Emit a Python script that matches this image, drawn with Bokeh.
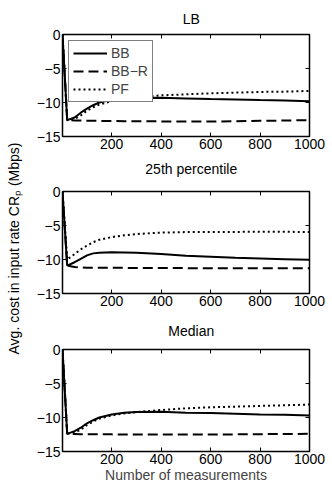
import math
from bokeh.plotting import figure
from bokeh.layouts import row, column
from bokeh.models import (Range1d, FixedTicker, LinearAxis, Legend, LegendItem, Label)
from bokeh.embed import file_html
from bokeh.resources import INLINE

# ---- data ----
x_meas = [1, 20, 50, 75, 100, 125, 150, 200, 250, 300, 400, 500, 600, 700, 800, 900, 1000]

bb_lb = [0, -12.6, -12.2, -11.5, -10.9, -10.4, -10.0, -9.6, -9.45, -9.35, -9.3, -9.4, -9.5, -9.55, -9.65, -9.7, -9.8]
bbr_lb = [0, -12.6, -12.65, -12.65, -12.7, -12.7, -12.7, -12.72, -12.75, -12.75, -12.78, -12.8, -12.8, -12.75, -12.7, -12.65, -12.6]
pf_lb = [0, -12.6, -12.4, -11.9, -11.2, -10.7, -10.3, -9.8, -9.45, -9.2, -8.95, -8.8, -8.65, -8.55, -8.45, -8.4, -8.3]

bb_p25 = [0, -10.9, -10.4, -9.9, -9.4, -9.1, -9.0, -8.95, -8.97, -9.0, -9.2, -9.45, -9.6, -9.75, -9.85, -9.95, -10.05]
bbr_p25 = [0, -10.9, -11.1, -11.15, -11.2, -11.2, -11.2, -11.22, -11.23, -11.25, -11.25, -11.27, -11.28, -11.3, -11.3, -11.3, -11.3]
pf_p25 = [0, -10.0, -9.2, -8.5, -7.95, -7.45, -7.1, -6.7, -6.45, -6.25, -6.05, -5.97, -5.95, -5.94, -5.93, -5.93, -5.95]

bb_med = [0, -12.4, -12.0, -11.5, -10.85, -10.4, -10.0, -9.55, -9.3, -9.2, -9.15, -9.3, -9.35, -9.45, -9.55, -9.6, -9.7]
bbr_med = [0, -12.4, -12.42, -12.45, -12.45, -12.47, -12.47, -12.48, -12.5, -12.5, -12.5, -12.5, -12.5, -12.48, -12.45, -12.42, -12.4]
pf_med = [0, -12.4, -12.2, -11.8, -11.1, -10.6, -10.15, -9.7, -9.4, -9.2, -8.9, -8.65, -8.5, -8.4, -8.3, -8.2, -8.1]

x_ticks = [200, 400, 600, 800, 1000]
y_ticks = [0, -5, -10, -15]
y_tick_labels = {0: "0", -5: "\u22125", -10: "\u221210", -15: "\u221215"}

titles = ["LB", "25th percentile", "Median"]
series_names = ["BB", "BB\u2212R", "PF"]
panels = [(bb_lb, bbr_lb, pf_lb), (bb_p25, bbr_p25, pf_p25), (bb_med, bbr_med, pf_med)]

FONT = "Liberation Sans"
FS = "14px"
dashes = ["solid", "10 5", "2 3"]

# layout geometry (pixels)
title_h = [26, 25, 25]           # height of each title strip
title_center = [18, 10, 14]      # title text centre, from top of strip
tops = [8, 8, 8]
bottoms = [22, 23, 39]
FRAME_H = 102
FRAME_W = 247
LEFT_B = 36
RIGHT_B = 23
LABEL_W = 26
FIG_W = LEFT_B + FRAME_W + RIGHT_B

items = []
for i, (title, data) in enumerate(zip(titles, panels)):
    # title strip
    th = title_h[i]
    t = figure(width=FIG_W, height=th, output_backend="svg", toolbar_location=None,
               x_range=Range1d(0, FIG_W), y_range=Range1d(0, th), min_border=0,
               x_axis_location=None, y_axis_location=None)
    t.grid.visible = False
    t.outline_line_color = None
    t.add_layout(Label(x=LEFT_B + FRAME_W / 2, y=th - title_center[i], text=title,
                       text_align="center", text_baseline="middle",
                       text_font=FONT, text_font_size=FS, text_color="black"))
    items.append(t)

    h = tops[i] + FRAME_H + bottoms[i]
    p = figure(width=FIG_W, height=h, output_backend="svg",
               toolbar_location=None, x_range=Range1d(1, 1000), y_range=Range1d(-15, 0),
               min_border_left=LEFT_B, min_border_right=RIGHT_B,
               min_border_top=tops[i], min_border_bottom=bottoms[i])
    p.grid.visible = False
    p.outline_line_color = "black"
    p.outline_line_width = 1.5
    p.background_fill_color = "white"
    p.border_fill_color = "white"

    xax = p.below[0]
    yax = p.left[0]
    xax.ticker = FixedTicker(ticks=x_ticks)
    yax.ticker = FixedTicker(ticks=y_ticks)
    yax.major_label_overrides = y_tick_labels
    for ax in (xax, yax):
        ax.axis_line_color = None
        ax.major_tick_in = 4
        ax.major_tick_out = 0
        ax.minor_tick_line_color = None
        ax.major_tick_line_color = "black"
        ax.major_tick_line_width = 1
        ax.major_label_text_font = FONT
        ax.major_label_text_font_size = FS
        ax.major_label_text_color = "black"
        ax.major_label_standoff = 2

    # mirrored ticks top/right (no labels drawn)
    top_ax = LinearAxis(ticker=FixedTicker(ticks=x_ticks), major_label_text_font_size="1px",
                        major_label_text_color=None,
                        major_label_standoff=0, major_tick_in=4, major_tick_out=0,
                        minor_tick_line_color=None, axis_line_color=None)
    right_ax = LinearAxis(ticker=FixedTicker(ticks=y_ticks), major_label_text_font_size="1px",
                          major_label_text_color=None,
                          major_label_standoff=0, major_tick_in=4, major_tick_out=0,
                          minor_tick_line_color=None, axis_line_color=None)
    p.add_layout(top_ax, "above")
    p.add_layout(right_ax, "right")

    renderers = []
    for name, ys, dash in zip(series_names, data, dashes):
        r = p.line(x_meas, ys, line_color="black", line_width=2, line_dash=dash)
        renderers.append((name, r))

    if i == 0:
        legend = Legend(items=[LegendItem(label=n, renderers=[r]) for n, r in renderers],
                        location="top_left")
        legend.margin = 6
        legend.padding = 4
        legend.spacing = 2
        legend.glyph_width = 34
        legend.glyph_height = 16
        legend.label_height = 16
        legend.label_standoff = 4
        legend.label_text_font = FONT
        legend.label_text_font_size = FS
        legend.border_line_color = "black"
        legend.border_line_width = 1
        legend.background_fill_alpha = 1
        p.add_layout(legend, "center")
    if i == 2:
        xax.axis_label = "Number of measurements"
        xax.axis_label_text_font = FONT
        xax.axis_label_text_font_size = FS
        xax.axis_label_text_font_style = "normal"
        xax.axis_label_standoff = 0
    items.append(p)

total_h = sum(title_h) + sum(t + FRAME_H + b for t, b in zip(tops, bottoms))
lab = figure(width=LABEL_W, height=total_h, output_backend="svg", toolbar_location=None,
             x_range=Range1d(0, 1), y_range=Range1d(0, total_h),
             min_border=0, x_axis_location=None, y_axis_location=None)
lab.grid.visible = False
lab.outline_line_color = None
lab.add_layout(Label(x=0.5, y=total_h - 248, text="Avg. cost in input rate CR\u209a (Mbps)",
                     angle=math.pi / 2, text_align="center", text_baseline="middle",
                     text_font=FONT, text_font_size=FS, text_color="black"))

layout = row(lab, column(*items, spacing=0), spacing=0)
open("out.html", "w").write(file_html(layout, INLINE))
